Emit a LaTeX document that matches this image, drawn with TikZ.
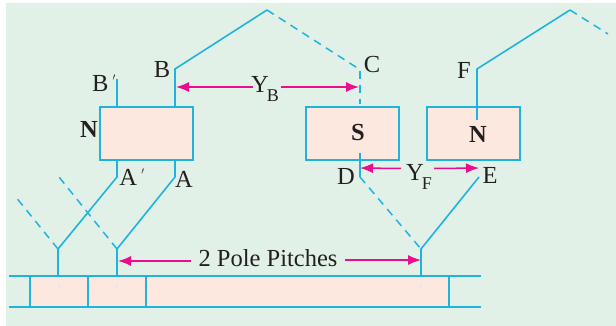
\documentclass[tikz,border=0pt]{standalone}
\usepackage{fontspec}
\setmainfont{Liberation Serif}
\usetikzlibrary{arrows.meta}
\definecolor{bgc}{HTML}{E2F1E7}
\definecolor{wire}{HTML}{1FB4DE}
\definecolor{pole}{HTML}{FDE8DF}
\definecolor{mag}{HTML}{EC0C8E}
\definecolor{ink}{HTML}{231F20}
\newcommand{\lbsub}[2]{#1\kern-2pt\raisebox{-9pt}{\fontsize{18}{18}\selectfont #2}}
\tikzset{
  x=1pt,y=-1pt,
  wl/.style={draw=wire,line width=1.6pt,line join=miter},
  wd/.style={draw=wire,line width=1.5pt,dash pattern=on 8pt off 6pt},
  polebox/.style={draw=wire,fill=pole,line width=1.8pt,minimum width=93pt,minimum height=53pt,inner sep=0pt,outer sep=0pt},
  lab/.style={text=ink,font=\fontsize{24.5}{24.5}\selectfont,inner sep=0pt},
  blab/.style={text=ink,font=\fontsize{24.5}{24.5}\selectfont\bfseries,inner sep=0pt},
  arr/.style={draw=mag,line width=1.5pt,-{Latex[length=13pt,width=10pt]}},
}
\begin{document}
\begin{tikzpicture}
\useasboundingbox (0,0) rectangle (616,326);
\fill[bgc] (6,3) rectangle (616,326);
% commutator
\fill[pole] (30,276) rectangle (449,307);
\coordinate (rt1) at (9,276); \coordinate (rt2) at (481,276);
\coordinate (rb1) at (9,307); \coordinate (rb2) at (481,307);
\draw[wl] (rt1) -- (rt2);
\draw[wl] (rb1) -- (rb2);
\foreach \xx in {30,88,146,449} \draw[wl] (\xx,276) -- (\xx,307);
% pole boxes
\node[polebox] (n1) at (146.5,133.5) {};
\node[polebox] (s1) at (352.5,133.5) {};
\node[polebox] (n2) at (473.5,133.5) {};
% winding points
\coordinate (Bp) at (117,79);
\coordinate (Bpb) at (117,107);
\coordinate (Bb) at (175,107);
\coordinate (B) at (175,69);
\coordinate (T1) at (267,10);
\coordinate (C) at (359,69);
\coordinate (Cb) at (360,104);
\coordinate (Dt) at (360,153);
\coordinate (D) at (360,177);
\coordinate (V3) at (421,249);
\coordinate (V3b) at (421,276);
\coordinate (E) at (479,177);
\coordinate (Fb) at (477,120);
\coordinate (F) at (477,69);
\coordinate (T2) at (570,10);
\coordinate (T2e) at (608,34);
\coordinate (Apt) at (117,160);
\coordinate (Ap) at (117,177);
\coordinate (V1) at (58,249);
\coordinate (V1b) at (58,276);
\coordinate (V1e) at (15,196);
\coordinate (At) at (175,160);
\coordinate (A) at (175,177);
\coordinate (V2) at (117,249);
\coordinate (V2b) at (117,276);
\coordinate (V2e) at (59,177);
% solid wires
\draw[wl] (Bp) -- (Bpb);
\draw[wl] (Bb) -- (B) -- (T1);
\draw[wl] (Dt) -- (D);
\draw[wl] (E) -- (V3) -- (V3b);
\draw[wl] (Fb) -- (F) -- (T2);
\draw[wl] (Apt) -- (Ap) -- (V1) -- (V1b);
\draw[wl] (At) -- (A) -- (V2) -- (V2b);
% dashed wires
\draw[wd] (T1) -- (C);
\draw[wd] (C) ++(1,2) -- (Cb);
\draw[wd] (D) -- (V3);
\draw[wd] (T2) -- (T2e);
\draw[wd] (V1) -- (V1e);
\draw[wd] (V2) -- (V2e);
% labels
\node[lab] (lB) at (162,69.5) {B};
\node[lab] (lBp) at (104,83) {B\,\raisebox{6pt}{\fontsize{14}{14}\selectfont$'$}};
\node[blab] (lN1) at (89,129) {N};
\node[blab] (lS) at (358,133) {S};
\node[blab] (lN2) at (478,134) {N};
\node[lab] (lC) at (372,65) {C};
\node[lab] (lF) at (464,70) {F};
\node[lab] (lAp) at (132,177) {A\,\raisebox{6pt}{\fontsize{14}{14}\selectfont$'$}};
\node[lab] (lA) at (184,179) {A};
\node[lab] (lD) at (346,177) {D};
\node[lab] (lE) at (490,175) {E};
\node[lab,anchor=base west] (yb) at (251,93) {\lbsub{Y}{B}};
\node[lab,anchor=base west] (yf) at (406,181) {\lbsub{Y}{F}};
\node[lab] (pp) at (268,258) {2 Pole Pitches};
% arrows
\coordinate (abl) at (176,87); \coordinate (abr) at (359,87);
\coordinate (afl) at (360,168); \coordinate (afr) at (479,168);
\coordinate (apl) at (118,261); \coordinate (apr) at (421,260);
\coordinate (abl0) at (253,87); \coordinate (abr0) at (281,87);
\coordinate (afl0) at (401,168.5); \coordinate (afr0) at (434,168.5);
\coordinate (apl0) at (191,261); \coordinate (apr0) at (345,260);
\draw[arr] (abl0) -- (abl);
\draw[arr] (abr0) -- (abr);
\draw[arr] (afl0) -- (afl);
\draw[arr] (afr0) -- (afr);
\draw[arr] (apl0) -- (apl);
\draw[arr] (apr0) -- (apr);
\end{tikzpicture}
\end{document}
